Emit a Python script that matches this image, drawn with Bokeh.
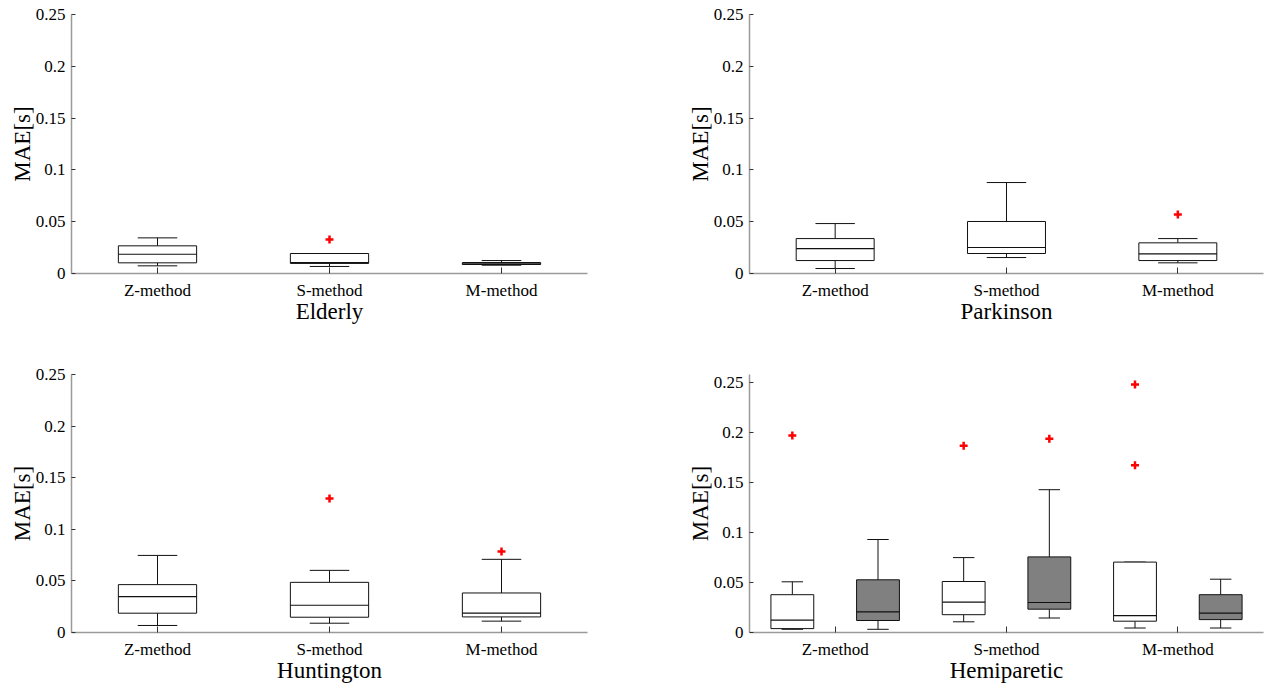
from bokeh.plotting import figure
from bokeh.layouts import column, row
from bokeh.models import Range1d, FixedTicker, CustomJSTickFormatter
from bokeh.embed import file_html
from bokeh.resources import INLINE

# ---------------- data ----------------
categories = ["Z-method", "S-method", "M-method"]
y_ticks = [0, 0.05, 0.1, 0.15, 0.2, 0.25]

# Elderly
elderly_lo = [0.0074, 0.0068, 0.0080]
elderly_q1 = [0.0103, 0.0097, 0.0087]
elderly_med = [0.0186, 0.0106, 0.0093]
elderly_q3 = [0.0267, 0.0193, 0.0106]
elderly_hi = [0.0344, 0.0193, 0.0125]
elderly_out = [[], [0.0328], []]

# Parkinson
parkinson_lo = [0.0048, 0.0154, 0.0103]
parkinson_q1 = [0.0125, 0.0193, 0.0125]
parkinson_med = [0.0241, 0.0251, 0.0190]
parkinson_q3 = [0.0337, 0.0502, 0.0296]
parkinson_hi = [0.0482, 0.0878, 0.0337]
parkinson_out = [[], [], [0.0569]]

# Huntington
huntington_lo = [0.0068, 0.0090, 0.0110]
huntington_q1 = [0.0187, 0.0148, 0.0151]
huntington_med = [0.0348, 0.0264, 0.0187]
huntington_q3 = [0.0464, 0.0486, 0.0383]
huntington_hi = [0.0747, 0.0602, 0.0709]
huntington_out = [[], [0.1298], [0.0786]]

# Hemiparetic - white boxes
hemi_a_lo = [0.0032, 0.0107, 0.0045]
hemi_a_q1 = [0.0039, 0.0178, 0.0113]
hemi_a_med = [0.0123, 0.0304, 0.0168]
hemi_a_q3 = [0.0378, 0.0510, 0.0704]
hemi_a_hi = [0.0507, 0.0749, 0.0704]
hemi_a_out = [[0.197], [0.1867], [0.248, 0.1673]]

# Hemiparetic - grey boxes
hemi_b_lo = [0.0032, 0.0145, 0.0045]
hemi_b_q1 = [0.0120, 0.0233, 0.0129]
hemi_b_med = [0.0207, 0.0300, 0.0194]
hemi_b_q3 = [0.0527, 0.0756, 0.0378]
hemi_b_hi = [0.0930, 0.1428, 0.0533]
hemi_b_out = [[], [0.1938], []]

FONT = "Liberation Serif"
EDGE = "#111111"


def make_fig(title, width, height, bl, br, bt, bb, ytop):
    p = figure(width=width, height=height, output_backend="svg", toolbar_location=None,
               x_range=Range1d(0.5, 3.5), y_range=Range1d(0, ytop),
               min_border_left=bl, min_border_right=br, min_border_top=bt, min_border_bottom=bb,
               background_fill_color="white", border_fill_color="white")
    p.outline_line_color = None
    p.xgrid.visible = False
    p.ygrid.visible = False
    p.xaxis.ticker = FixedTicker(ticks=[1, 2, 3])
    p.xaxis.formatter = CustomJSTickFormatter(args=dict(cats=categories),
                                              code="return cats[Math.round(tick) - 1];")
    p.yaxis.ticker = FixedTicker(ticks=y_ticks)
    p.yaxis.formatter = CustomJSTickFormatter(code="return String(Math.round(tick * 1000) / 1000);")
    for ax in (p.xaxis[0], p.yaxis[0]):
        ax.axis_line_color = "#9a9a9a"
        ax.axis_line_width = 1.5
        ax.major_tick_line_color = "#333333"
        ax.minor_tick_line_color = None
        ax.major_tick_out = 0
        ax.major_label_text_font = FONT
        ax.major_label_text_font_size = "17px"
        ax.major_label_text_color = "black"
        ax.axis_label_text_font = FONT
        ax.axis_label_text_font_style = "normal"
        ax.axis_label_text_font_size = "23px"
        ax.axis_label_text_color = "black"
    p.xaxis.major_tick_in = 6
    p.yaxis.major_tick_in = 4
    p.xaxis.major_label_standoff = 7
    p.yaxis.major_label_standoff = 6
    p.xaxis.axis_label_standoff = -4
    p.yaxis.axis_label_standoff = -2
    p.xaxis.axis_label = title
    p.yaxis.axis_label = "MAE[s]"
    return p


def draw_boxes(p, offset, lo, q1, med, q3, hi, outs, bw, cw, fill):
    xs = [i + 1 + offset for i in range(len(categories))]
    p.segment(x0=xs, y0=q3, x1=xs, y1=hi, line_color=EDGE, line_width=1)
    p.segment(x0=xs, y0=lo, x1=xs, y1=q1, line_color=EDGE, line_width=1)
    p.segment(x0=[x - cw / 2 for x in xs], y0=hi, x1=[x + cw / 2 for x in xs], y1=hi,
              line_color=EDGE, line_width=1)
    p.segment(x0=[x - cw / 2 for x in xs], y0=lo, x1=[x + cw / 2 for x in xs], y1=lo,
              line_color=EDGE, line_width=1)
    p.quad(left=[x - bw / 2 for x in xs], right=[x + bw / 2 for x in xs], bottom=q1, top=q3,
           fill_color=fill, line_color=EDGE, line_width=1)
    p.segment(x0=[x - bw / 2 for x in xs], y0=med, x1=[x + bw / 2 for x in xs], y1=med,
              line_color=EDGE, line_width=1.2)
    ox, oy = [], []
    for x, vals in zip(xs, outs):
        for v in vals:
            ox.append(x)
            oy.append(v)
    if ox:
        p.scatter(x=ox, y=oy, marker="cross", size=8, line_width=2.5, line_color="red")


# page has no margin: frames placed at the reference pixel positions
p1 = make_fig("Elderly", 640, 340, 71, 53, 14, 67, 0.25)
draw_boxes(p1, 0, elderly_lo, elderly_q1, elderly_med, elderly_q3, elderly_hi, elderly_out,
           0.455, 0.23, "white")

p2 = make_fig("Parkinson", 626, 340, 109, 3, 14, 67, 0.25)
draw_boxes(p2, 0, parkinson_lo, parkinson_q1, parkinson_med, parkinson_q3, parkinson_hi,
           parkinson_out, 0.455, 0.23, "white")

p3 = make_fig("Huntington", 640, 345, 71, 53, 34, 52, 0.25)
draw_boxes(p3, 0, huntington_lo, huntington_q1, huntington_med, huntington_q3, huntington_hi,
           huntington_out, 0.455, 0.23, "white")

p4 = make_fig("Hemiparetic", 626, 345, 109, 3, 27, 52, 0.258)
draw_boxes(p4, -0.25, hemi_a_lo, hemi_a_q1, hemi_a_med, hemi_a_q3, hemi_a_hi, hemi_a_out,
           0.25, 0.125, "white")
draw_boxes(p4, 0.25, hemi_b_lo, hemi_b_q1, hemi_b_med, hemi_b_q3, hemi_b_hi, hemi_b_out,
           0.25, 0.125, "#808080")

layout = column(row(p1, p2), row(p3, p4))
open("out.html", "w").write(file_html(layout, INLINE))
